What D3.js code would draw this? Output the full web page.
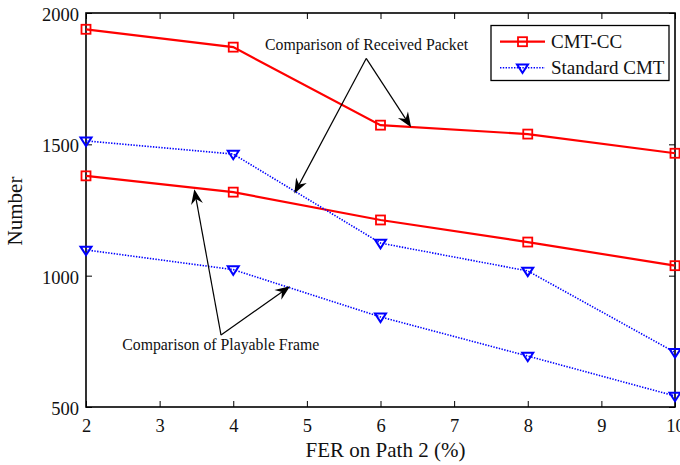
<!DOCTYPE html>
<html>
<head>
<meta charset="utf-8">
<script src="https://cdn.jsdelivr.net/npm/d3@7"></script>
<style>
  html, body { margin: 0; padding: 0; background: #fff; }
  svg { display: block; }
  svg text { font-family: "Liberation Serif", "Times New Roman", serif; }
</style>
</head>
<body>
<svg id="chart" width="680" height="465"></svg>
<script>
// FER on path 2 (%)
const fer = [2, 4, 6, 8, 10];
// Received packets
const ccReceived  = [1938, 1870, 1573, 1539, 1466];
const stdReceived = [1513, 1463, 1124, 1018, 708];
// Playable frames
const ccPlayable  = [1380, 1318, 1212, 1128, 1038];
const stdPlayable = [1098, 1023, 843, 694, 542];

const xTicks = [2, 3, 4, 5, 6, 7, 8, 9, 10];
const yTicks = [500, 1000, 1500, 2000];
const legendLabels = ["CMT-CC", "Standard CMT"];

// Annotation text and arrows, in data units
const annotations = [
  { text: "Comparison of Received Packet", at: [5.81, 1858],
    from: [5.806, 1827], to: [[6.416, 1565], [4.83, 1313]] },
  { text: "Comparison of Playable Frame", at: [3.83, 717],
    from: [3.834, 774], to: [[3.471, 1329], [4.772, 960]] }
];

const FONT = "Liberation Serif, Times New Roman, serif";
const svg = d3.select("#chart");
const m = { left: 86, right: 675, top: 13, bottom: 407 };

const x = d3.scaleLinear().domain([2, 10]).range([m.left, m.right]);
const y = d3.scaleLinear().domain([500, 2000]).range([m.bottom, m.top]);

const RED = "#ff0000", BLUE = "#0000ff";

// Axes with inward ticks on all four sides
const tickLen = 6;
const axB = svg.append("g").attr("transform", `translate(0,${m.bottom})`)
  .call(d3.axisBottom(x).tickValues(xTicks).tickFormat(d3.format("d")).tickSize(-tickLen).tickPadding(8));
const axT = svg.append("g").attr("transform", `translate(0,${m.top})`)
  .call(d3.axisTop(x).tickValues(xTicks).tickFormat("").tickSize(-tickLen));
const axL = svg.append("g").attr("transform", `translate(${m.left},0)`)
  .call(d3.axisLeft(y).tickValues(yTicks).tickFormat(d3.format("d")).tickSize(-tickLen).tickPadding(7));
const axR = svg.append("g").attr("transform", `translate(${m.right},0)`)
  .call(d3.axisRight(y).tickValues(yTicks).tickFormat("").tickSize(-tickLen));

[axB, axT, axL, axR].forEach(g => {
  g.attr("font-family", FONT);
  g.select(".domain").remove();
  g.selectAll(".tick line").attr("stroke", "#000").attr("stroke-width", 1);
  g.selectAll(".tick text").attr("fill", "#111").attr("font-size", 18.5)
    .attr("font-family", FONT);
});
axB.selectAll(".tick text").attr("dy", "0.9em");
axL.selectAll(".tick text").attr("dy", "0.4em");

// Frame
svg.append("rect")
  .attr("x", m.left).attr("y", m.top)
  .attr("width", m.right - m.left).attr("height", m.bottom - m.top)
  .attr("fill", "none").attr("stroke", "#000").attr("stroke-width", 1.6);

// Axis titles
svg.append("text")
  .attr("x", (m.left + m.right) / 2 + 5).attr("y", 457)
  .attr("text-anchor", "middle").attr("font-size", 21).attr("fill", "#111")
  .attr("font-family", FONT)
  .text("FER on Path 2 (%)");
svg.append("text")
  .attr("transform", `translate(22,${(m.top + m.bottom) / 2 + 1}) rotate(-90)`)
  .attr("text-anchor", "middle").attr("font-size", 21).attr("fill", "#111")
  .attr("font-family", FONT)
  .text("Number");

// Series
const line = d3.line().x((d, i) => x(fer[i])).y(d => y(d));
const series = [
  { values: ccReceived,  color: RED,  marker: "square" },
  { values: ccPlayable,  color: RED,  marker: "square" },
  { values: stdReceived, color: BLUE, marker: "tri" },
  { values: stdPlayable, color: BLUE, marker: "tri" }
];

const plot = svg.append("g");

function drawMarker(g, type, cx, cy, color) {
  if (type === "square") {
    const s = 9;
    g.append("rect").attr("x", cx - s / 2).attr("y", cy - s / 2)
      .attr("width", s).attr("height", s)
      .attr("fill", "none").attr("stroke", color).attr("stroke-width", 1.8);
  } else {
    const w = 5.5, h = 5.5;
    g.append("path")
      .attr("d", `M${cx - w},${cy - h * 0.6}L${cx + w},${cy - h * 0.6}L${cx},${cy + h * 0.95}Z`)
      .attr("fill", "none").attr("stroke", color).attr("stroke-width", 2)
      .attr("stroke-linejoin", "miter");
  }
}

series.forEach(s => {
  const isRed = s.marker === "square";
  plot.append("path").datum(s.values)
    .attr("d", line).attr("fill", "none").attr("stroke", s.color)
    .attr("stroke-width", isRed ? 2.2 : 1.6)
    .attr("stroke-dasharray", isRed ? null : "1.4,1.4");
  s.values.forEach((v, i) => drawMarker(plot, s.marker, x(fer[i]), y(v), s.color));
});

// Annotations with arrows
function arrow(g, x0, y0, x1, y1) {
  const ang = Math.atan2(y1 - y0, x1 - x0);
  const L = 15, W = 6, notch = 10;
  const ux = Math.cos(ang), uy = Math.sin(ang);
  const px = -uy, py = ux;
  const bx = x1 - ux * L, by = y1 - uy * L;
  const nx = x1 - ux * notch, ny = y1 - uy * notch;
  g.append("line").attr("x1", x0).attr("y1", y0).attr("x2", nx).attr("y2", ny)
    .attr("stroke", "#000").attr("stroke-width", 1.2);
  g.append("path")
    .attr("d", `M${x1},${y1}L${bx + px * W},${by + py * W}L${nx},${ny}L${bx - px * W},${by - py * W}Z`)
    .attr("fill", "#000");
}

const ann = svg.append("g");
annotations.forEach(a => {
  ann.append("text").attr("x", x(a.at[0])).attr("y", y(a.at[1]))
    .attr("text-anchor", "middle").attr("font-size", 15.8).attr("fill", "#111")
    .attr("font-family", FONT)
    .text(a.text);
  a.to.forEach(t => arrow(ann, x(a.from[0]), y(a.from[1]), x(t[0]), y(t[1])));
});

// Legend
const lg = svg.append("g");
lg.append("rect").attr("x", 491).attr("y", 25.5).attr("width", 178).attr("height", 55)
  .attr("fill", "#fff").attr("stroke", "#000").attr("stroke-width", 1.3);
legendLabels.forEach((lab, i) => {
  const cy = 41.7 + i * 26;
  const s = series[i === 0 ? 0 : 2];
  lg.append("line").attr("x1", 500).attr("x2", 545).attr("y1", cy).attr("y2", cy)
    .attr("stroke", s.color).attr("stroke-width", i === 0 ? 2.2 : 1.6)
    .attr("stroke-dasharray", i === 0 ? null : "1.4,1.4");
  drawMarker(lg, s.marker, 522.5, cy, s.color);
  lg.append("text").attr("x", 551).attr("y", cy + 6.5)
    .attr("font-size", 19).attr("fill", "#111").attr("font-family", FONT).text(lab);
});
</script>
</body>
</html>
